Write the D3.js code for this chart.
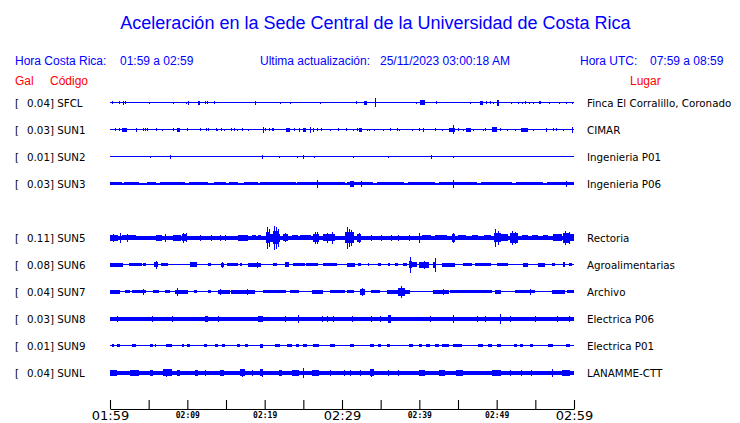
<!DOCTYPE html>
<html><head><meta charset="utf-8">
<script src="https://cdn.jsdelivr.net/npm/d3@7"></script>
<style>body{margin:0;background:#fff}svg{display:block}</style>
</head><body>
<svg id="chart" width="740" height="423"></svg>
<script>
// ---------- data ----------
const titleText = "Aceleración en la Sede Central de la Universidad de Costa Rica";
const localRange = "01:59 a 02:59";
const utcRange = "07:59 a 08:59";
const updated = "25/11/2023 03:00:18 AM";

const stationCodes = ["SFCL","SUN1","SUN2","SUN3","SUN5","SUN6","SUN7","SUN8","SUN9","SUNL"];
const stationPlaces = ["Finca El Corralillo, Coronado","CIMAR","Ingenieria P01","Ingenieria P06","Rectoria","Agroalimentarias","Archivo","Electrica P06","Electrica P01","LANAMME-CTT"];
const stationGal = ["0.04","0.03","0.01","0.03","0.11","0.08","0.04","0.03","0.01","0.04"];
const stationSlot = [0,1,2,3,5,6,7,8,9,10];   // SUN4 row is empty
const baseNoise = [0.05,0.05,0.05,0.09,0.2,0.05,0.05,0.2,0.05,0.2];

// time axis (minutes after 01:59)
const tickMinutes = [0,5,10,15,20,25,30,35,40,45,50,55,60];
const tickLabels = {0:"01:59",10:"02:09",20:"02:19",30:"02:29",40:"02:39",50:"02:49",60:"02:59"};
const majorTicks = [0,30,60];

// bursts: [start minute, end minute, relative half-amplitude]
const burstsSFCL = [[0.3,0.3,0.15],[1.1,1.1,0.15],[1.7,1.7,0.2],[2.0,2.0,0.15],[5.1,5.1,0.12],[8.1,8.1,0.12],[9.8,9.8,0.12],[10.1,10.1,0.2],[11.4,11.6,0.2],[12.3,12.3,0.15],[12.6,12.6,0.15],[13.4,13.4,0.15],[18.8,18.8,0.2],[22.0,22.0,0.12],[23.3,23.3,0.12],[27.2,27.2,0.12],[31.8,31.8,0.15],[32.9,33.2,0.2],[34.3,34.3,0.45],[39.6,39.6,0.12],[40.1,40.7,0.25],[42.2,42.2,0.15],[46.5,46.5,0.12],[47.8,48.2,0.2],[48.6,48.6,0.15],[49.1,49.1,0.15],[49.5,49.5,0.12],[50.1,50.3,0.3],[51.9,51.9,0.12],[52.7,52.7,0.12],[53.3,53.3,0.12],[53.7,53.7,0.15],[54.2,54.2,0.12],[54.7,54.7,0.12],[55.5,55.7,0.15],[56.8,56.8,0.12],[58.1,58.1,0.12],[59.0,59.0,0.12],[59.7,59.7,0.12]];
const burstsSUN1 = [[0.65,0.65,0.15],[1.16,1.16,0.15],[1.6,2.2,0.2],[3.4,3.4,0.2],[4.3,4.3,0.15],[4.5,4.5,0.15],[4.8,4.8,0.15],[6.0,6.0,0.15],[6.7,6.7,0.12],[8.2,8.2,0.15],[8.6,9.1,0.2],[10.0,10.0,0.15],[11.6,11.6,0.15],[12.4,12.4,0.15],[12.7,12.7,0.15],[13.7,13.7,0.15],[13.9,13.9,0.12],[14.4,14.4,0.15],[14.8,14.8,0.12],[15.6,15.6,0.15],[16.0,16.0,0.15],[16.4,16.4,0.12],[17.1,17.1,0.15],[17.8,17.8,0.12],[19.8,19.8,0.3],[20.1,20.1,0.15],[20.5,20.5,0.15],[20.9,20.9,0.15],[21.1,21.1,0.15],[22.8,23.3,0.2],[23.8,23.8,0.15],[24.4,24.4,0.2],[25.0,25.4,0.2],[25.9,25.9,0.3],[26.3,26.3,0.2],[26.8,26.8,0.15],[27.3,27.3,0.15],[28.4,28.4,0.12],[29.5,29.5,0.15],[30.5,30.5,0.15],[31.4,31.4,0.12],[31.9,31.9,0.15],[32.2,32.6,0.2],[33.2,33.2,0.12],[33.5,33.5,0.12],[34.1,34.1,0.12],[35.3,35.3,0.12],[36.2,36.2,0.15],[37.1,37.1,0.15],[37.4,37.4,0.12],[39.1,39.1,0.12],[39.9,39.9,0.15],[40.5,40.5,0.2],[42.0,42.0,0.15],[42.9,42.9,0.12],[43.9,44.6,0.2],[44.3,44.3,0.45],[45.0,45.0,0.15],[45.7,45.7,0.12],[46.0,46.7,0.2],[46.9,46.9,0.12],[48.2,48.2,0.12],[48.5,48.5,0.15],[49.4,50.0,0.25],[50.4,50.4,0.15],[51.3,51.3,0.12],[52.4,52.4,0.12],[53.2,54.1,0.2],[54.7,54.7,0.12],[56.4,56.4,0.2],[57.3,57.3,0.15],[57.7,57.7,0.15],[58.6,58.6,0.12],[59.7,59.7,0.3]];
const burstsSUN2 = [[5.2,5.2,0.12],[7.7,7.7,0.2],[19.6,19.6,0.2],[21.8,21.8,0.12],[24.2,24.2,0.12],[24.9,24.9,0.2],[26.4,26.4,0.12],[31.4,31.4,0.12],[36.0,36.0,0.12],[41.5,41.5,0.2],[44.4,44.4,0.12]];
const burstsSUN3 = [[0,1.5,0.17],[1.8,3.7,0.17],[4.8,6.0,0.17],[6.5,9.7,0.17],[10.2,12.7,0.17],[13.4,15.0,0.17],[15.4,16.6,0.17],[17.3,19.2,0.17],[19.4,24.0,0.17],[24.2,30.4,0.17],[26.8,26.8,0.4],[30.6,34.0,0.17],[31.0,31.5,0.3],[32.4,32.4,0.3],[34.5,38.0,0.17],[38.5,42.0,0.17],[42.5,47.5,0.17],[44.4,44.4,0.4],[48.0,52.0,0.17],[52.5,56.0,0.17],[56.5,60.0,0.17],[59.0,59.0,0.3]];
const burstsSUN5 = [[0,1.0,0.3],[0.4,0.4,0.4],[1.3,1.3,0.5],[1.5,3.4,0.27],[2.2,2.2,0.4],[6.0,6.7,0.28],[7.1,7.1,0.4],[8.2,9.2,0.3],[9.3,9.9,0.35],[9.5,9.5,0.5],[9.8,9.8,0.45],[11.6,11.6,0.3],[13.1,13.1,0.3],[14.2,14.2,0.3],[14.9,14.9,0.3],[16.6,17.9,0.28],[18.3,18.9,0.26],[19.2,19.5,0.26],[20.2,20.7,0.55],[20.3,20.3,1.1],[20.55,20.55,0.9],[20.7,21.1,0.4],[21.1,21.8,0.65],[21.2,21.2,1.2],[21.5,21.5,1.1],[21.7,21.7,0.9],[21.8,22.0,0.4],[22.4,23.0,0.35],[22.6,22.6,0.45],[23.5,24.3,0.27],[24.6,26.0,0.27],[26.3,27.0,0.4],[26.5,26.5,0.6],[26.8,26.8,0.6],[27.6,29.1,0.35],[28.0,28.0,0.5],[28.7,28.7,0.6],[30.4,31.5,0.55],[30.7,30.7,1.1],[30.9,30.9,0.9],[31.2,31.2,0.8],[31.9,32.5,0.4],[32.2,32.2,0.5],[33.8,33.8,0.3],[35.1,35.1,0.3],[36.4,36.4,0.3],[37.3,37.3,0.3],[38.6,38.6,0.3],[39.9,39.9,0.5],[40.3,41.5,0.27],[42.0,43.6,0.27],[44.2,44.6,0.4],[44.4,44.4,0.5],[45.0,46.0,0.26],[46.8,47.6,0.26],[48.3,49.3,0.26],[49.6,50.6,0.45],[49.8,49.8,0.9],[50.2,50.2,0.7],[50.6,51.5,0.35],[51.7,52.8,0.5],[52.0,52.0,0.7],[52.4,52.4,0.6],[53.3,54.0,0.26],[54.6,55.4,0.26],[56.0,56.6,0.26],[57.3,58.4,0.33],[58.6,59.5,0.5],[58.9,58.9,0.7],[59.3,59.3,0.6],[59.5,60,0.35]];
const burstsSUN6 = [[0,1.7,0.2],[2.4,4.1,0.15],[4.3,4.7,0.15],[5.7,6.2,0.25],[5.9,5.9,0.4],[6.6,7.5,0.15],[10.3,11.2,0.25],[12.7,13.1,0.15],[14.3,14.8,0.2],[14.5,14.5,0.3],[15.1,16.6,0.15],[16.8,17.1,0.15],[17.8,19.5,0.18],[19.0,19.0,0.3],[21.1,21.6,0.15],[22.6,23.1,0.25],[23.6,25.2,0.15],[25.4,26.9,0.15],[27.6,29.3,0.15],[30.6,31.7,0.22],[32.1,32.5,0.15],[33.3,33.5,0.15],[34.7,35.1,0.15],[35.9,36.2,0.15],[36.9,37.3,0.15],[37.9,38.4,0.15],[38.6,39.0,0.35],[38.8,38.8,0.8],[39.0,39.7,0.25],[40.0,41.2,0.3],[40.6,40.6,0.4],[41.8,42.2,0.3],[42.0,42.0,0.7],[42.9,44.6,0.22],[45.7,46.8,0.15],[47.2,49.3,0.15],[50.0,51.5,0.15],[53.4,54.0,0.22],[55.4,56.2,0.18],[57.1,57.5,0.15],[58.6,58.8,0.25],[59.3,59.7,0.15]];
const burstsSUN7 = [[0,1.3,0.22],[1.9,2.6,0.13],[2.8,4.7,0.17],[4.3,4.3,0.3],[5.6,6.3,0.17],[7.1,7.8,0.17],[8.4,10.1,0.22],[8.6,8.6,0.4],[10.8,11.2,0.13],[12.7,13.1,0.13],[14.0,15.5,0.2],[14.2,14.2,0.3],[15.7,18.8,0.2],[17.7,17.7,0.3],[19.8,22.8,0.17],[23.3,24.4,0.17],[26.1,27.6,0.2],[28.4,30.4,0.17],[30.6,31.5,0.17],[32.3,33.0,0.3],[32.6,32.6,0.4],[33.8,34.9,0.17],[35.8,37.3,0.2],[37.3,38.1,0.4],[37.6,37.6,0.6],[38.1,38.8,0.2],[41.8,43.8,0.2],[43.1,43.1,0.3],[44.0,49.4,0.17],[49.8,50.6,0.2],[52.4,55.0,0.17],[54.3,54.3,0.3],[57.1,58.9,0.2],[59.1,60,0.17]];
const burstsSUN8 = [[0.9,0.9,0.3],[5.4,5.4,0.3],[8.0,8.0,0.3],[12.3,12.7,0.3],[14.0,14.0,0.3],[19.2,19.8,0.3],[22.6,22.6,0.3],[24.3,24.3,0.4],[27.4,27.4,0.3],[28.0,28.0,0.3],[28.9,28.9,0.3],[31.3,31.3,0.3],[33.8,33.8,0.3],[34.9,35.1,0.3],[36.0,36.4,0.4],[41.4,41.4,0.3],[44.4,44.4,0.4],[47.4,47.4,0.3],[48.5,48.5,0.3],[50.4,50.4,0.5],[51.7,51.7,0.3],[55.0,55.0,0.3],[57.8,57.8,0.3],[59.3,59.3,0.3]];
const burstsSUN9 = [[0.2,0.5,0.13],[0.9,1.3,0.13],[2.8,3.4,0.13],[5.2,5.5,0.13],[5.8,6.0,0.13],[7.3,8.0,0.13],[9.3,9.6,0.13],[10.0,10.3,0.13],[12.1,12.5,0.13],[13.6,14.0,0.13],[14.5,14.9,0.13],[16.4,16.8,0.13],[17.4,17.9,0.13],[19.4,19.8,0.2],[21.3,22.0,0.13],[22.9,23.5,0.13],[24.0,24.5,0.13],[25.0,25.5,0.13],[26.2,27.0,0.13],[28.5,29.1,0.13],[31.0,31.5,0.13],[33.6,34.1,0.13],[34.6,35.1,0.13],[35.8,36.2,0.13],[38.6,39.2,0.13],[39.9,40.4,0.13],[40.9,41.4,0.13],[42.0,42.5,0.13],[42.9,43.8,0.13],[44.4,45.5,0.13],[47.6,48.2,0.13],[48.9,49.4,0.13],[50.0,50.6,0.13],[52.2,52.6,0.13],[53.0,53.4,0.13],[54.3,54.7,0.13],[56.7,57.3,0.13],[59.0,59.5,0.13]];
const burstsSUNL = [[0,0.9,0.3],[2.6,3.7,0.3],[5.2,5.6,0.3],[6.9,8.0,0.33],[7.3,7.3,0.4],[8.6,9.0,0.3],[11.0,11.4,0.3],[12.3,12.3,0.3],[14.2,14.7,0.3],[16.8,17.5,0.33],[17.1,17.1,0.4],[18.3,18.3,0.3],[19.4,19.8,0.33],[19.6,19.6,0.4],[21.8,22.2,0.3],[23.5,24.4,0.32],[24.9,24.9,0.5],[26.1,27.0,0.3],[28.4,28.4,0.3],[30.2,30.2,0.3],[31.0,31.0,0.3],[32.3,32.3,0.3],[33.6,34.1,0.33],[33.8,33.8,0.4],[36.0,36.0,0.3],[37.3,37.3,0.3],[39.9,40.7,0.3],[42.5,43.3,0.3],[44.8,45.7,0.3],[49.4,50.6,0.3],[51.7,51.7,0.3],[53.2,53.2,0.3],[54.5,54.5,0.3],[57.1,57.3,0.4],[58.4,59.5,0.3]];
const stationBursts = [burstsSFCL,burstsSUN1,burstsSUN2,burstsSUN3,burstsSUN5,burstsSUN6,burstsSUN7,burstsSUN8,burstsSUN9,burstsSUNL];

// ---------- drawing ----------
const svg = d3.select("#chart");
const blue = "#0000ff", red = "#ff0000";
const x = d3.scaleLinear().domain([0,60]).range([110,574]);
const y = d3.scaleLinear().domain([0,10]).range([102.7,372.7]);
const amp = d3.scaleLinear().domain([0,1]).range([0,10]);

svg.append("text").attr("x",375.5).attr("y",28.5).attr("text-anchor","middle")
  .attr("font-family","Liberation Sans, Arial, sans-serif").attr("font-size",18)
  .attr("fill",blue).text(titleText);

const hdr = svg.append("g").attr("font-family","Liberation Sans, Arial, sans-serif").attr("font-size",12);
hdr.append("text").attr("x",15).attr("y",65).attr("fill",blue).text("Hora Costa Rica:");
hdr.append("text").attr("x",120).attr("y",65).attr("fill",blue).text(localRange);
hdr.append("text").attr("x",260).attr("y",65).attr("fill",blue).text("Ultima actualización:");
hdr.append("text").attr("x",380).attr("y",65).attr("fill",blue).text(updated);
hdr.append("text").attr("x",580).attr("y",65).attr("fill",blue).text("Hora UTC:");
hdr.append("text").attr("x",650).attr("y",65).attr("fill",blue).text(utcRange);
hdr.append("text").attr("x",15).attr("y",85).attr("fill",red).text("Gal");
hdr.append("text").attr("x",50).attr("y",85).attr("fill",red).text("Código");
hdr.append("text").attr("x",630).attr("y",85).attr("fill",red).text("Lugar");

const rows = svg.append("g").selectAll("g").data(stationCodes).join("g")
  .attr("transform",(d,i)=>`translate(0,${y(stationSlot[i])})`);

rows.append("text").attr("x",15).attr("y",4)
  .attr("font-family","DejaVu Sans, sans-serif").attr("font-size",10.3).attr("fill","#000").text("[");
rows.append("text").attr("x",27).attr("y",4)
  .attr("font-family","DejaVu Sans, sans-serif").attr("font-size",10.3).attr("fill","#000")
  .text((d,i)=>`${stationGal[i]}] ${d}`);
rows.append("text").attr("x",587).attr("y",4)
  .attr("font-family","DejaVu Sans, sans-serif").attr("font-size",10.3).attr("fill","#000")
  .text((d,i)=>stationPlaces[i]);

// base trace
rows.append("rect").attr("shape-rendering","crispEdges")
  .attr("x",x(0)).attr("width",x(60)-x(0))
  .attr("y",(d,i)=>-Math.max(amp(baseNoise[i]),0.5))
  .attr("height",(d,i)=>Math.max(2*amp(baseNoise[i]),1))
  .attr("fill",blue);

// bursts
rows.each(function(d,i){
  d3.select(this).selectAll("rect.b").data(stationBursts[i]).join("rect").attr("class","b")
    .attr("shape-rendering","crispEdges")
    .attr("x",b=>x(b[0]))
    .attr("width",b=>Math.max(x(b[1])-x(b[0]),1))
    .attr("y",b=>-amp(b[2]))
    .attr("height",b=>2*amp(b[2]))
    .attr("fill",blue);
});

// time axis
const axis = d3.axisBottom(x).tickValues(tickMinutes).tickSizeInner(-9).tickSizeOuter(0)
  .tickPadding(3).tickFormat(m=>tickLabels[m] || "");
const ag = svg.append("g").attr("transform","translate(0,409)").call(axis);
ag.select(".domain").attr("stroke","#000").attr("stroke-width",1.2);
ag.selectAll(".tick line").attr("stroke","#000").attr("stroke-width",1.1);
ag.selectAll(".tick text").each(function(m){
  const t = d3.select(this).attr("fill","#000");
  if (majorTicks.includes(m)) {
    t.attr("font-family","DejaVu Sans, sans-serif").attr("font-size",13).attr("y",2);
  } else {
    t.attr("font-family","DejaVu Sans Mono, monospace").attr("font-size",8).attr("font-weight","bold").attr("y",3);
  }
});
</script>
</body></html>
